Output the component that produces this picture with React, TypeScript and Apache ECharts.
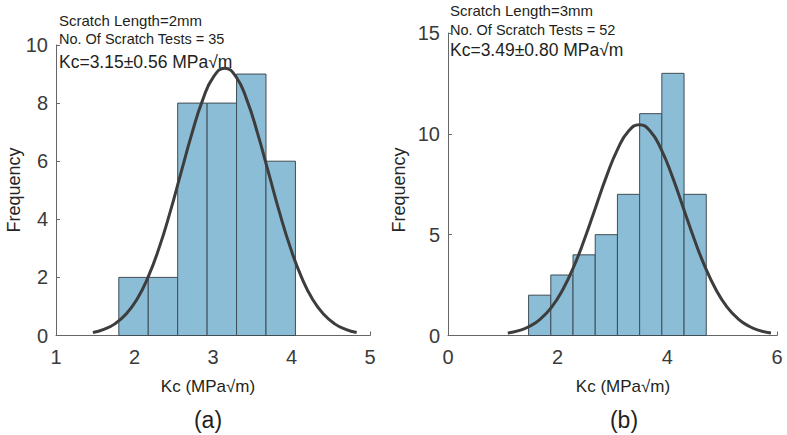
import React, { useEffect, useRef } from "react";
import * as echarts from "echarts";

// Histogram (a): bin edges and counts
const leftEdges = [1.8, 2.175, 2.55, 2.925, 3.3, 3.675, 4.05];
const leftCounts = [2, 2, 8, 8, 9, 6];
// Fitted curve (a)
const leftCurveX = [1.47, 1.61, 1.75, 1.89, 2.03, 2.17, 2.31, 2.45, 2.59, 2.73, 2.87, 3.01, 3.15, 3.29, 3.43, 3.57, 3.71, 3.85, 3.99, 4.13, 4.27, 4.41, 4.55, 4.69, 4.83];
const leftCurveY = [0.1, 0.21, 0.4, 0.73, 1.24, 1.99, 2.99, 4.21, 5.58, 6.94, 8.12, 8.92, 9.2, 8.92, 8.12, 6.94, 5.58, 4.21, 2.99, 1.99, 1.24, 0.73, 0.4, 0.21, 0.1];

// Histogram (b)
const rightEdges = [1.47, 1.875, 2.28, 2.685, 3.09, 3.495, 3.9, 4.305, 4.71];
const rightCounts = [2, 3, 4, 5, 7, 11, 13, 7];
const rightCurveX = [1.09, 1.29, 1.49, 1.69, 1.89, 2.09, 2.29, 2.49, 2.69, 2.89, 3.09, 3.29, 3.49, 3.69, 3.89, 4.09, 4.29, 4.49, 4.69, 4.89, 5.09, 5.29, 5.49, 5.69, 5.89];
const rightCurveY = [0.12, 0.24, 0.46, 0.83, 1.41, 2.26, 3.39, 4.78, 6.34, 7.89, 9.22, 10.13, 10.45, 10.13, 9.22, 7.89, 6.34, 4.78, 3.39, 2.26, 1.41, 0.83, 0.46, 0.24, 0.12];

// Axis ranges / ticks
const leftXRange = [1, 5, 1];
const leftYRange = [0, 10, 2];
const rightXRange = [0, 6, 2];
const rightYRange = [0, 15, 5];

const leftNotes = ["Scratch Length=2mm", "No. Of Scratch Tests = 35", "Kc=3.15±0.56 MPa√m"];
const rightNotes = ["Scratch Length=3mm", "No. Of Scratch Tests = 52", "Kc=3.49±0.80 MPa√m"];
const xLabel = "Kc (MPa√m)";
const yLabel = "Frequency";
const panelLabels = ["(a)", "(b)"];

const FONT = "'Liberation Sans', Arial, sans-serif";
const BAR_FILL = "#8bbdd6";
const BAR_EDGE = "#3f4d55";
const CURVE = "#3d3d3d";
const AXIS = "#666666";
const LABEL = "#3a3a3a";

function histData(edges: number[], counts: number[]) {
  return counts.map((c, i) => [edges[i], edges[i + 1], c]);
}
function curveData(xs: number[], ys: number[]) {
  return xs.map((x, i) => [x, ys[i]]);
}

function axisX(idx: number, r: number[]) {
  return {
    type: "value",
    gridIndex: idx,
    min: r[0],
    max: r[1],
    interval: r[2],
    axisLine: { show: true, onZero: false, lineStyle: { color: AXIS, width: 1 } },
    axisTick: { show: true, inside: true, length: 4, lineStyle: { color: AXIS } },
    axisLabel: { color: LABEL, fontSize: 20, fontFamily: FONT, margin: 11 },
    splitLine: { show: false },
  };
}
function axisY(idx: number, r: number[]) {
  return {
    type: "value",
    gridIndex: idx,
    min: r[0],
    max: r[1],
    interval: r[2],
    axisLine: { show: true, onZero: false, lineStyle: { color: AXIS, width: 1 } },
    axisTick: { show: true, inside: true, length: 4, lineStyle: { color: AXIS } },
    axisLabel: { color: LABEL, fontSize: 20, fontFamily: FONT, margin: 8 },
    splitLine: { show: false },
  };
}

const renderBar = (params: any, api: any) => {
  const x0 = api.value(0);
  const x1 = api.value(1);
  const c = api.value(2);
  const p0 = api.coord([x0, c]);
  const p1 = api.coord([x1, 0]);
  return {
    type: "rect",
    shape: { x: p0[0], y: p0[1], width: p1[0] - p0[0], height: p1[1] - p0[1] },
    style: { fill: BAR_FILL, stroke: BAR_EDGE, lineWidth: 1 },
  };
};

function noteTexts(x: number, ys: number[], notes: string[]) {
  const sizes = [15, 14.5, 17.5];
  return notes.map((t, i) => ({
    type: "text",
    x,
    y: ys[i],
    style: {
      text: t,
      fill: "#231f20",
      font: `${sizes[i]}px ${FONT}`,
      align: "left",
      verticalAlign: "middle",
    },
  }));
}

export default function App() {
  const ref = useRef<HTMLDivElement>(null);
  useEffect(() => {
    if (!ref.current) return;
    const chart = echarts.init(ref.current, undefined, { renderer: "svg" });
    const option: any = {
      animation: false,
      backgroundColor: "#ffffff",
      grid: [
        { left: 56, right: 417, top: 45, bottom: 99.5 },
        { left: 448, right: 10, top: 33, bottom: 99.5 },
      ],
      xAxis: [axisX(0, leftXRange), axisX(1, rightXRange)],
      yAxis: [axisY(0, leftYRange), axisY(1, rightYRange)],
      series: [
        {
          type: "custom",
          xAxisIndex: 0,
          yAxisIndex: 0,
          renderItem: renderBar,
          encode: { x: [0, 1], y: 2 },
          data: histData(leftEdges, leftCounts),
          z: 2,
        },
        {
          type: "line",
          xAxisIndex: 0,
          yAxisIndex: 0,
          data: curveData(leftCurveX, leftCurveY),
          smooth: true,
          showSymbol: false,
          lineStyle: { color: CURVE, width: 3 },
          z: 3,
        },
        {
          type: "custom",
          xAxisIndex: 1,
          yAxisIndex: 1,
          renderItem: renderBar,
          encode: { x: [0, 1], y: 2 },
          data: histData(rightEdges, rightCounts),
          z: 2,
        },
        {
          type: "line",
          xAxisIndex: 1,
          yAxisIndex: 1,
          data: curveData(rightCurveX, rightCurveY),
          smooth: true,
          showSymbol: false,
          lineStyle: { color: CURVE, width: 3 },
          z: 3,
        },
      ],
      graphic: [
        ...noteTexts(59, [20, 38.5, 61.5], leftNotes),
        ...noteTexts(450, [10, 29.5, 50], rightNotes),
        {
          type: "text",
          x: 14,
          y: 190,
          rotation: Math.PI / 2,
          style: { text: yLabel, fill: "#262626", font: `18px ${FONT}`, align: "center", verticalAlign: "middle" },
        },
        {
          type: "text",
          x: 399,
          y: 190,
          rotation: Math.PI / 2,
          style: { text: yLabel, fill: "#262626", font: `18px ${FONT}`, align: "center", verticalAlign: "middle" },
        },
        {
          type: "text",
          x: 208,
          y: 386,
          style: { text: xLabel, fill: "#231f20", font: `17px ${FONT}`, align: "center", verticalAlign: "middle" },
        },
        {
          type: "text",
          x: 623,
          y: 386,
          style: { text: xLabel, fill: "#231f20", font: `17px ${FONT}`, align: "center", verticalAlign: "middle" },
        },
        {
          type: "text",
          x: 208,
          y: 420,
          style: { text: panelLabels[0], fill: "#231f20", font: `23px ${FONT}`, align: "center", verticalAlign: "middle" },
        },
        {
          type: "text",
          x: 624,
          y: 420,
          style: { text: panelLabels[1], fill: "#231f20", font: `23px ${FONT}`, align: "center", verticalAlign: "middle" },
        },
      ],
    };
    chart.setOption(option);
    return () => chart.dispose();
  }, []);
  return (
    <div
      ref={ref}
      style={{ position: "fixed", left: 0, top: 0, width: 787, height: 435, background: "#fff" }}
    />
  );
}
